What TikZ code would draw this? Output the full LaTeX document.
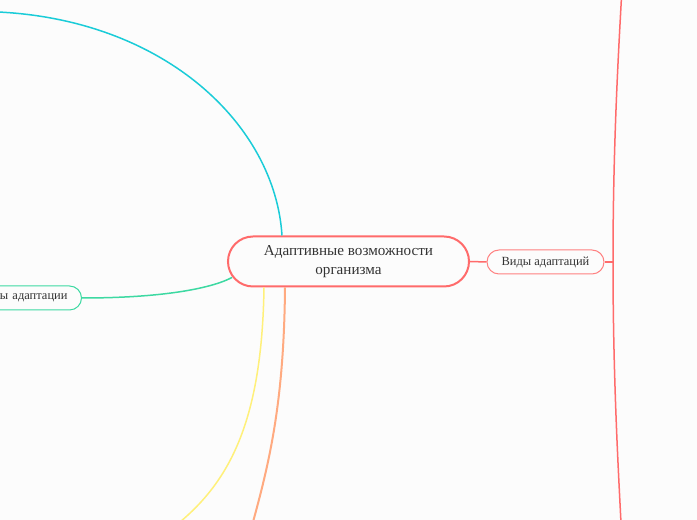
\documentclass[tikz,border=0pt]{standalone}
\usepackage{fontspec}
\setmainfont{Liberation Serif}

\definecolor{mapred}{HTML}{FF6B6B}
\definecolor{mapcyan}{HTML}{1ACCD8}
\definecolor{mapgreen}{HTML}{3DD9A2}
\definecolor{mapyellow}{HTML}{FFF07A}
\definecolor{maporange}{HTML}{FFAA80}
\definecolor{mapgray}{HTML}{333333}
\definecolor{mapback}{HTML}{FCFCFC}

\tikzset{
	topic rounded/.style={
		draw = mapred,
		line width = 2bp,
		rounded corners = 25bp,
		minimum width = 241bp,
		minimum height = 50bp,
		align = center,
		text = mapgray,
		font = \fontsize{15.2}{18.5}\selectfont
	},
	sub rounded/.style={
		draw,
		line width = 1bp,
		rounded corners = 12bp,
		minimum height = 24bp,
		inner xsep = 14bp,
		text = mapgray,
		font = \fontsize{12.5}{15}\selectfont
	}
}

\begin{document}
\begin{tikzpicture}[
	x=1bp, y=1bp,
	branch/.style={line width=1.5bp}
]

\fill[mapback] (0,0) rectangle (697,520);
\useasboundingbox (0,0) rectangle (697,520);
\clip (0,0) rectangle (697,520);

\node[topic rounded] (organism) at (348.5,258.5) {Адаптивные возможности\\организма};

\node[sub rounded, draw=mapred!85, minimum width=117bp] (kinds) at (545.5,258) {Виды адаптаций};
\node[sub rounded, draw=mapgreen, anchor=east, text width=112bp, align=right] (factors) at (82,222) {ры адаптации};

\coordinate (fork) at (613,258);
\coordinate (kinds up) at (621.5,523);
\coordinate (kinds down) at (621,-3);
\coordinate (cyan end) at (-2,508);
\coordinate (yellow end) at (180,-2);
\coordinate (orange end) at (253,-2);

% right branch
\draw[branch, mapred] (organism.east) -- (kinds.west);
\draw[branch, mapred] (kinds.east) -- (fork);
\draw[branch, mapred] (fork) .. controls (613,370) and (618,460) .. (kinds up);
\draw[branch, mapred] (fork) .. controls (613,146) and (618,56) .. (kinds down);

% left branches
\draw[branch, mapcyan] ([xshift=55bp]organism.north west) .. controls (275,395) and (165,500) .. (cyan end);
\draw[branch, mapgreen] ([xshift=5bp,yshift=10bp]organism.south west) .. controls (210,231) and (160,222) .. (factors.east);
\draw[branch, mapyellow] ([xshift=37bp]organism.south west) .. controls (262,100) and (230,40) .. (yellow end);
\draw[line width=2bp, maporange] ([xshift=58bp]organism.south west) .. controls (284,120) and (270,60) .. (orange end);

\end{tikzpicture}
\end{document}
